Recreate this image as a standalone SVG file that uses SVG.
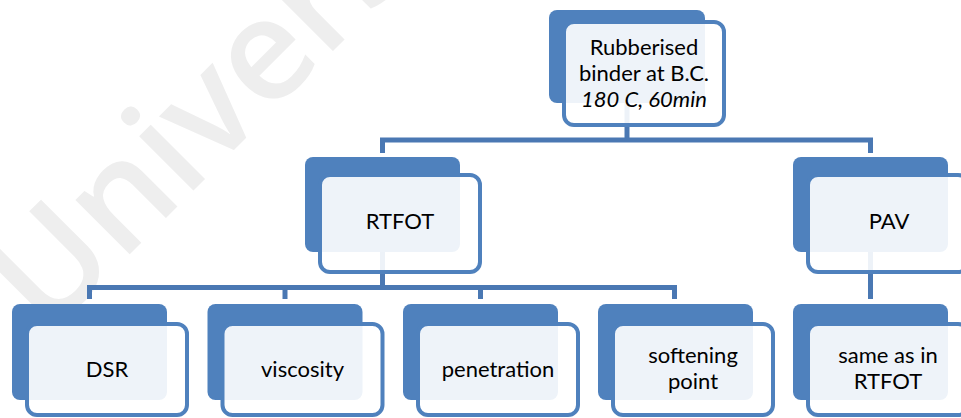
<svg xmlns="http://www.w3.org/2000/svg" width="961" height="418" viewBox="0 0 961 418">
<style>
.back{fill:#4F81BD}
.front{fill:#ffffff;fill-opacity:0.9;stroke:#4F81BD;stroke-width:4}
.lbl{font-family:Lato,"Liberation Sans",sans-serif;font-size:22px;fill:#000;text-anchor:middle}
.it{font-style:italic}
.conn{stroke:#4A78B3;stroke-width:5;fill:none}
.wm{font-family:"Open Sans","Liberation Sans",sans-serif;font-size:142px;font-weight:600;fill:#EEEEEE}
</style>
<rect width="961" height="418" fill="#ffffff"/>
<text class="wm" x="47" y="337" transform="rotate(-45 47 337)">Univers</text>
<g id="connectors">
<path class="conn" d="M627,103 V140"/>
<path class="conn" d="M382.5,153 V140 H870.5 V153"/>
<path class="conn" d="M382.5,252 V287.5"/>
<path class="conn" d="M870.5,252 V299"/>
<path class="conn" d="M89.5,299 V287.5 H674.5 V299"/>
<path class="conn" d="M285,287.5 V299"/>
<path class="conn" d="M480.5,287.5 V299"/>
</g>
<g id="root">
<rect class="back" x="549" y="10" width="156" height="93" rx="8"/>
<rect class="front" x="564" y="22" width="160" height="103" rx="10"/>
<text class="lbl" x="644" y="55">Rubberised</text>
<text class="lbl" x="644" y="81">binder at B.C.</text>
<text class="lbl it" x="644" y="107">180 C, 60min</text>
</g>
<g id="rtfot">
<rect class="back" x="305" y="157" width="155" height="95" rx="8"/>
<rect class="front" x="320" y="175" width="160" height="97" rx="10"/>
<text class="lbl" x="400" y="229">RTFOT</text>
</g>
<g id="pav">
<rect class="back" x="793" y="157" width="155" height="95" rx="8"/>
<rect class="front" x="808" y="175" width="160" height="97" rx="10"/>
<text class="lbl" x="889" y="229">PAV</text>
</g>
<g id="dsr">
<rect class="back" x="12" y="304" width="155" height="96" rx="8"/>
<rect class="front" x="27" y="324" width="160" height="91" rx="10"/>
<text class="lbl" x="107" y="377">DSR</text>
</g>
<g id="viscosity">
<rect class="back" x="207.5" y="304" width="155" height="96" rx="8"/>
<rect class="front" x="222.5" y="324" width="160" height="91" rx="10"/>
<text class="lbl" x="302.5" y="377">viscosity</text>
</g>
<g id="penetration">
<rect class="back" x="403" y="304" width="155" height="96" rx="8"/>
<rect class="front" x="418" y="324" width="160" height="91" rx="10"/>
<text class="lbl" x="498" y="377">penetration</text>
</g>
<g id="softening">
<rect class="back" x="598" y="304" width="155" height="96" rx="8"/>
<rect class="front" x="613" y="324" width="160" height="91" rx="10"/>
<text class="lbl" x="693" y="363">softening</text>
<text class="lbl" x="693" y="389">point</text>
</g>
<g id="same">
<rect class="back" x="793" y="304" width="155" height="96" rx="8"/>
<rect class="front" x="808" y="324" width="160" height="91" rx="10"/>
<text class="lbl" x="888" y="363">same as in</text>
<text class="lbl" x="888" y="389">RTFOT</text>
</g>
</svg>
